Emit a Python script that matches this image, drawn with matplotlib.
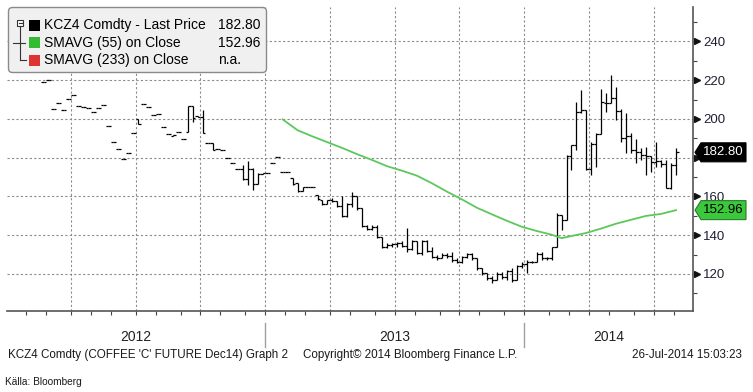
import numpy as np
import pandas as pd
import matplotlib
matplotlib.use('Agg')
import matplotlib.pyplot as plt
from matplotlib.patches import FancyBboxPatch, Polygon, Rectangle

plt.rcParams['font.family'] = ['Liberation Sans', 'DejaVu Sans']

# weekly bars of KCZ4, first bar = week of 13 Jan 2012
first_bar = '2012-01-13'

opens = [250, 247, 244, 238, 234, 228, 219.3, 220.1, 205.2, 208.1,
         204.6, 210.2, 212.4, 206.9, 206.4, 205.5, 203.8, 205.8, 207.0, 196.5,
         188.0, 184.5, 179.2, 182.3, 192.6, 200.0, 207.6, 206.4, 202.0, 202.6,
         196.0, 192.3, 191.2, 193.1, 189.5, 193.1, 206.5, 201.5, 201.0, 187.8,
         187.8, 184.7, 184.0, 179.7, 177.1, 174.2, 174.2, 169.0, 174.0, 166.4,
         171.6, 172.3, 177.5, 180.2, 172.5, 172.5, 169.5, 167.0, 163.0, 165.0,
         165.0, 160.8, 158.2, 156.0, 158.2, 157.5, 155.0, 150.0, 156.0, 160.0,
         154.0, 145.0, 143.0, 144.0, 139.0, 134.0, 135.0, 135.5, 136.0, 134.5,
         133.0, 137.0, 131.0, 137.0, 132.0, 129.0, 128.5, 130.0, 129.5, 127.0,
         126.0, 129.0, 130.5, 128.0, 123.0, 120.5, 118.0, 117.0, 120.0, 118.5,
         121.5, 117.0, 124.0, 125.0, 126.0, 126.0, 130.5, 128.0, 128.0, 134.0,
         150.5, 147.9, 181.0, 186.6, 203.8, 204.6, 174.0, 187.0, 192.0, 208.0,
         208.1, 211.0, 204.0, 190.0, 191.0, 184.0, 183.0, 181.5, 181.0, 178.0,
         178.5, 177.0, 164.5, 176.5]
highs = [250, 247, 244, 238, 234, 228, 219.3, 220.1, 205.2, 208.1,
         204.6, 210.2, 212.4, 206.9, 206.4, 205.5, 203.8, 205.8, 207.0, 196.5,
         188.0, 184.5, 179.2, 182.3, 192.6, 200.0, 207.6, 206.4, 202.0, 202.6,
         196.0, 192.3, 191.7, 193.1, 189.5, 206.7, 206.7, 201.5, 204.6, 187.8,
         187.8, 184.7, 184.0, 179.7, 177.1, 174.2, 176.0, 178.5, 174.7, 172.0,
         172.0, 172.3, 177.5, 180.2, 172.5, 172.5, 169.5, 167.0, 165.0, 165.0,
         165.0, 160.8, 158.2, 158.2, 159.0, 157.5, 160.0, 156.6, 162.5, 160.0,
         154.0, 145.3, 145.3, 145.3, 139.0, 136.0, 136.0, 136.5, 137.0, 143.7,
         137.5, 137.0, 137.5, 137.5, 134.0, 130.0, 130.8, 130.8, 131.4, 128.3,
         129.5, 130.8, 130.8, 128.0, 123.0, 120.5, 119.0, 121.0, 121.0, 122.0,
         123.0, 124.6, 126.2, 127.2, 126.5, 131.4, 131.5, 129.0, 134.1, 151.3,
         150.5, 181.4, 186.6, 208.9, 215.0, 204.6, 188.3, 192.6, 215.7, 213.3,
         222.7, 216.5, 205.0, 203.0, 192.6, 189.5, 184.9, 185.5, 181.0, 188.3,
         178.8, 178.8, 177.1, 184.9]
lows = [250, 247, 244, 238, 234, 228, 219.3, 220.1, 205.2, 208.1,
        204.6, 210.2, 212.4, 206.9, 206.4, 205.5, 203.8, 205.8, 207.0, 196.5,
        188.0, 184.5, 179.2, 182.3, 192.6, 197.3, 207.6, 206.4, 202.0, 202.6,
        196.0, 192.3, 191.2, 193.1, 189.5, 193.1, 198.5, 201.0, 192.6, 187.8,
        184.0, 184.7, 184.0, 179.7, 177.1, 174.2, 168.5, 166.0, 163.4, 166.4,
        171.6, 172.3, 177.5, 180.2, 172.5, 172.5, 166.0, 162.3, 163.0, 165.0,
        165.0, 158.2, 155.6, 156.0, 157.0, 154.7, 149.6, 149.6, 154.7, 153.0,
        144.3, 142.7, 142.7, 138.6, 133.4, 133.4, 134.0, 134.0, 134.0, 131.4,
        132.4, 130.5, 130.0, 131.4, 128.3, 127.2, 128.3, 128.3, 126.2, 125.7,
        125.7, 128.3, 127.2, 122.0, 119.5, 117.0, 115.4, 117.0, 117.5, 117.0,
        115.9, 117.0, 123.0, 120.5, 125.5, 126.0, 127.2, 127.0, 127.0, 134.0,
        142.7, 147.9, 173.7, 184.0, 203.0, 173.7, 171.1, 175.4, 192.0, 203.8,
        208.0, 199.5, 188.3, 182.4, 182.3, 177.1, 178.8, 171.1, 172.6, 175.4,
        175.4, 164.2, 164.0, 171.1]
closes = [250, 247, 244, 238, 234, 228, 219.3, 220.1, 205.2, 208.1,
          204.6, 210.2, 212.4, 206.9, 206.4, 205.5, 203.8, 205.8, 207.0, 196.5,
          188.0, 184.5, 179.2, 182.3, 192.6, 197.3, 207.6, 206.4, 202.0, 202.6,
          196.0, 192.3, 191.7, 193.1, 189.5, 206.5, 200.4, 201.0, 192.6, 187.8,
          184.0, 184.7, 184.0, 179.7, 177.1, 174.2, 169.0, 174.0, 166.4, 171.6,
          172.0, 172.3, 177.5, 180.2, 172.5, 172.5, 166.5, 163.0, 165.0, 165.0,
          165.0, 158.5, 156.0, 158.2, 157.5, 155.0, 150.0, 156.0, 160.0, 154.0,
          145.0, 143.0, 144.0, 139.0, 134.0, 135.0, 135.5, 136.0, 134.5, 133.0,
          137.0, 131.0, 137.0, 132.0, 129.0, 128.5, 130.0, 129.5, 127.0, 126.0,
          129.0, 130.5, 128.0, 123.0, 120.5, 118.0, 117.0, 120.0, 118.5, 121.5,
          117.0, 124.0, 125.0, 126.0, 126.0, 130.5, 128.0, 128.0, 134.0, 150.5,
          147.9, 181.0, 186.6, 203.8, 204.6, 174.0, 187.0, 192.0, 209.0, 208.1,
          211.0, 204.0, 190.0, 191.0, 184.0, 183.0, 181.5, 181.0, 178.0, 178.5,
          177.0, 164.5, 176.5, 182.8]

# SMAVG(55), by bar number
sma_week = [54, 57, 60, 63, 66, 69, 72, 75, 78, 81, 84, 87, 90, 93,
            96, 99, 102, 105, 108, 110, 112, 115, 118, 121, 124, 127, 130, 133]
sma55 = [199.8, 194.2, 191.0, 188.0, 185.0, 181.8, 178.8, 175.6, 173.3, 170.7,
         166.8, 162.5, 158.5, 154.2, 150.8, 147.5, 144.4, 142.2, 140.3, 138.5,
         139.6, 141.2, 143.5, 146.0, 148.0, 150.0, 151.0, 152.96]

yticks = [120, 140, 160, 180, 200, 220, 240]
# 180 sits under the last-price tag in the original
ytick_labels = ['120', '140', '160', '', '200', '220', '240']
yminor = [110, 130, 150, 170, 190, 210, 230, 250]
years = ['2012', '2013', '2014']

legend_names = ['KCZ4 Comdty - Last Price', 'SMAVG (55) on Close', 'SMAVG (233) on Close']
legend_colors = ['#000000', '#33bb33', '#dd3333']

W, H = 753, 392
n = len(closes)
x = np.arange(n)
dates = pd.date_range(first_bar, periods=n, freq='7D')
yr = dates.year.to_numpy()
mo = yr * 12 + dates.month.to_numpy()
qt = yr * 4 + (dates.month.to_numpy() - 1) // 3
month_b = x[1:][np.diff(mo) != 0] - 0.5
quarter_b = x[1:][np.diff(qt) != 0] - 0.5
year_b = x[1:][np.diff(yr) != 0] - 0.5

fig = plt.figure(figsize=(W / 100, H / 100), dpi=100)
fig.patch.set_facecolor('white')
ax = fig.add_axes([7 / W, 1 - 311 / H, 686 / W, 304 / H])
x0, x1 = -1.35, 136.4
ax.set_xlim(x0, x1)
ax.set_ylim(100.9, 257.8)

# dotted grid
for b in quarter_b:
    ax.axvline(b, color='#8c8c8c', lw=0.8, ls=(0, (2, 2)), zorder=0)
for v in yticks:
    ax.axhline(v, color='#8c8c8c', lw=0.8, ls=(0, (2, 2)), zorder=0)

# OHLC bars
ax.vlines(x, lows, highs, color='black', lw=0.9)
ax.hlines(opens, x - 0.5, x, color='black', lw=0.9)
ax.hlines(closes, x, x + 0.5, color='black', lw=0.9)

ax.plot(sma_week, sma55, color='#5cc85c', lw=1.3)

# axes look
for s in ['top', 'left']:
    ax.spines[s].set_visible(False)
for s in ['right', 'bottom']:
    ax.spines[s].set_color('#555555')
    ax.spines[s].set_linewidth(1.2)
ax.set_xticks(month_b)
ax.tick_params(axis='x', length=3, width=0.8, color='#444444', labelbottom=False)
ax.yaxis.tick_right()
ax.set_yticks(yticks)
ax.set_yticklabels(ytick_labels)
ax.set_yticks(yminor, minor=True)
ax.tick_params(axis='y', which='major', length=0, pad=7.2, labelsize=9.5, labelcolor='#1f1f33')
ax.tick_params(axis='y', which='minor', length=3, width=0.8, color='#444444')
ax.plot([1.006] * len(yticks), yticks, ls='none', marker='>', ms=4.5, color='#111111',
        transform=ax.get_yaxis_transform(), clip_on=False)

# year band
xt = ax.get_xaxis_transform()
bounds = np.concatenate([[x0], year_b, [x1]])
for i, y in enumerate(years):
    ax.text((bounds[i] + bounds[i + 1]) / 2, -0.086, y, transform=xt, ha='center', va='center',
            fontsize=10, color='#222222')
for b in year_b:
    ax.plot([b, b], [-0.04, -0.118], transform=xt, clip_on=False, color='#a0a0a0', lw=1)

# overlay in pixel coordinates
ov = fig.add_axes([0, 0, 1, 1], zorder=5)
ov.set_xlim(0, W)
ov.set_ylim(H, 0)
ov.axis('off')

ov.add_patch(FancyBboxPatch((8.5, 7.5), 258, 65, boxstyle='round,pad=0,rounding_size=4',
                            fc='#f0f0f0', ec='#8a8a8a', lw=1))
legend_values = [f'{closes[-1]:.2f}', f'{sma55[-1]:.2f}', 'n.a.']
rows_y = [25, 42.5, 60]
for name, col, val, ry in zip(legend_names, legend_colors, legend_values, rows_y):
    ov.add_patch(Rectangle((29, ry - 5.5), 11, 11, fc=col, ec='none'))
    ov.text(44, ry, name, va='center', ha='left', fontsize=10)
    ov.text(218, ry, val, va='center', ha='left', fontsize=10)
# little tree icon
ov.add_patch(Rectangle((17.5, 19.5), 6, 6, fc='white', ec='#333333', lw=0.8))
ov.plot([19, 22], [22.5, 22.5], color='#333333', lw=0.8)
ov.plot([20.5, 20.5], [25.5, 60], color='#333333', lw=0.8)
ov.plot([20.5, 26], [60, 60], color='#333333', lw=0.8)
ov.plot([13, 25], [42.5, 42.5], color='#333333', lw=0.8)


def tag(val, fc, tc, ec):
    yp = H - ax.transData.transform((0, val))[1]
    pts = [(695, yp), (701, yp - 9.5), (746, yp - 9.5), (746, yp + 9.5), (701, yp + 9.5)]
    ov.add_patch(Polygon(pts, closed=True, fc=fc, ec=ec, lw=0.8))
    ov.text(723, yp, f'{val:.2f}', color=tc, ha='center', va='center', fontsize=9.5)


tag(closes[-1], 'black', 'white', 'black')
tag(sma55[-1], '#3cc83c', 'black', '#2a7a2a')

ov.text(8, 355, "KCZ4 Comdty (COFFEE 'C' FUTURE Dec14) Graph 2", fontsize=8.4, va='center', color='#1a1a1a')
ov.text(303, 355, 'Copyright© 2014 Bloomberg Finance L.P.', fontsize=8.4, va='center', color='#1a1a1a')
ov.text(742, 355, '26-Jul-2014 15:03:23', fontsize=8.4, va='center', ha='right', color='#1a1a1a')
ov.text(5, 382, 'Källa: Bloomberg', fontsize=7.3, va='center', color='#1a1a1a')

fig.savefig('out.png', dpi=100, facecolor='white')
